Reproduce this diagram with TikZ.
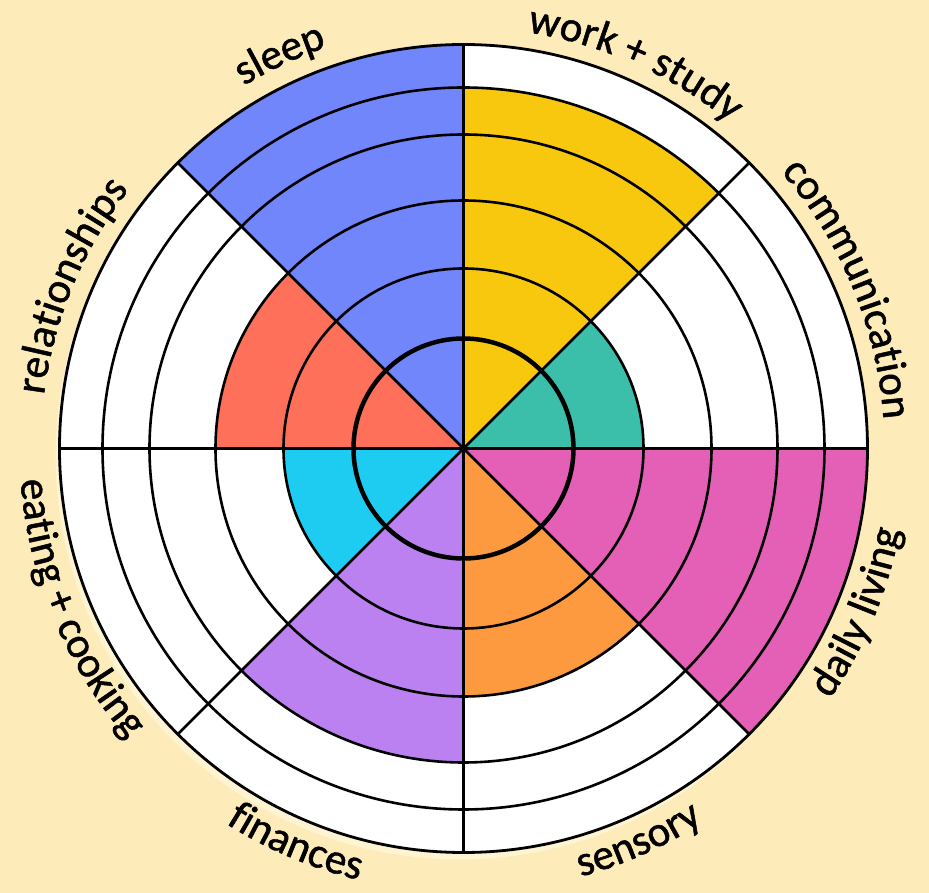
\documentclass[tikz,border=0pt]{standalone}
\usepackage{fontspec}
\usepackage{tikz}
\usetikzlibrary{decorations.text}
\newfontfamily\wheelfont{Carlito}[FakeBold=1.2]
\definecolor{bgcream}{HTML}{FDEBBA}
\definecolor{shadowcream}{HTML}{FFF4D2}
\definecolor{sleepblue}{HTML}{7186FA}
\definecolor{workyellow}{HTML}{F8C80F}
\definecolor{commteal}{HTML}{3CBFAA}
\definecolor{dailypink}{HTML}{E460B6}
\definecolor{sensorange}{HTML}{FD9A40}
\definecolor{finpurple}{HTML}{BC81F0}
\definecolor{eatcyan}{HTML}{1ECBF1}
\definecolor{relred}{HTML}{FE705A}
\tikzset{
  ring/.style={line width=2.6pt},
  toplabel/.style={decorate,decoration={text along path,text align=center,
    text={|\wheelfont\fontsize{43}{50}\selectfont|#1}}},
}

\begin{document}
\begin{tikzpicture}[line cap=round,line join=round,x=1pt,y=1pt]
\useasboundingbox (-463.5,-444.5) rectangle (465.5,448.5);
\fill[bgcream] (-463.5,-444.5) rectangle (465.5,448.5);
\coordinate (c) at (0,0);
\fill[shadowcream] (-4,-7) circle[radius=404];
\fill[white] (c) circle[radius=404];
\fill[sleepblue] (c) -- (90:404) arc[start angle=90,end angle=135,radius=404] -- cycle;
\fill[workyellow] (c) -- (45:361) arc[start angle=45,end angle=90,radius=361] -- cycle;
\fill[commteal] (c) -- (0:180) arc[start angle=0,end angle=45,radius=180] -- cycle;
\fill[dailypink] (c) -- (-45:404) arc[start angle=-45,end angle=0,radius=404] -- cycle;
\fill[sensorange] (c) -- (-90:248) arc[start angle=-90,end angle=-45,radius=248] -- cycle;
\fill[finpurple] (c) -- (-135:314) arc[start angle=-135,end angle=-90,radius=314] -- cycle;
\fill[eatcyan] (c) -- (180:180) arc[start angle=180,end angle=225,radius=180] -- cycle;
\fill[relred] (c) -- (135:248) arc[start angle=135,end angle=180,radius=248] -- cycle;
\draw[ring] (c) circle[radius=180];
\draw[ring] (c) circle[radius=248];
\draw[ring] (c) circle[radius=314];
\draw[ring] (c) circle[radius=361];
\draw[ring] (0:404) -- (180:404);
\draw[ring] (90:404) -- (270:404);
\draw[ring] (45:404) -- (225:404);
\draw[ring] (135:404) -- (315:404);
\draw[line width=4.5pt] (c) circle[radius=110];
\draw[line width=2.8pt] (c) circle[radius=404];
\path[toplabel={sleep}] (145:424) arc[start angle=145,end angle=85,radius=424];
\path[toplabel={work + study}] (96:421) arc[start angle=96,end angle=36,radius=421];
\path[toplabel={communication}] (52.5:421) arc[start angle=52.5,end angle=-7.5,radius=421];
\path[toplabel={relationships}] (187.5:423) arc[start angle=187.5,end angle=127.5,radius=423];
\path[toplabel={daily living}] (-52.5:444) arc[start angle=-52.5,end angle=7.5,radius=444];
\path[toplabel={sensory}] (-96:444) arc[start angle=-96,end angle=-36,radius=444];
\path[toplabel={finances}] (-143:444) arc[start angle=-143,end angle=-83,radius=444];
\path[toplabel={eating + cooking}] (-187.5:444) arc[start angle=-187.5,end angle=-127.5,radius=444];
\end{tikzpicture}
\end{document}
